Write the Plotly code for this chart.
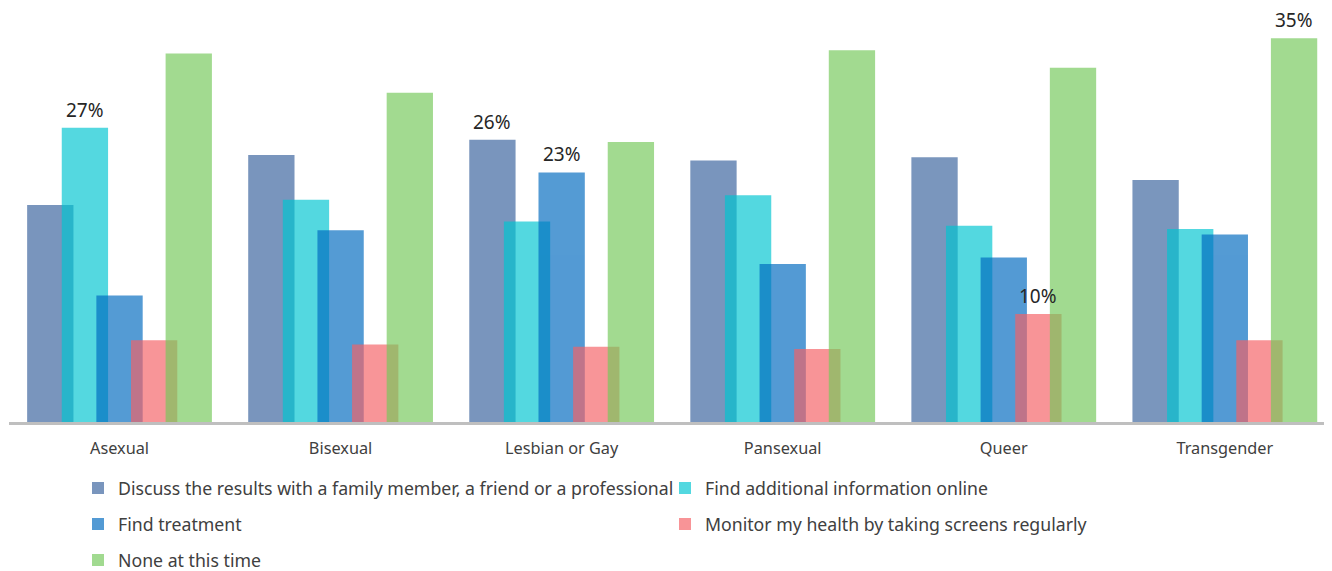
import plotly.graph_objects as go

categories = ["Asexual", "Bisexual", "Lesbian or Gay", "Pansexual", "Queer", "Transgender"]
series_names = [
    "Discuss the results with a family member, a friend or a professional",
    "Find additional information online",
    "Find treatment",
    "Monitor my health by taking screens regularly",
    "None at this time",
]
discuss = [19.9, 24.5, 25.9, 24.0, 24.3, 22.2]
info_online = [27.0, 20.4, 18.4, 20.8, 18.0, 17.7]
treatment = [11.6, 17.6, 22.9, 14.5, 15.1, 17.2]
monitor = [7.5, 7.1, 6.9, 6.7, 9.9, 7.5]
none_now = [33.8, 30.2, 25.7, 34.1, 32.5, 35.2]
# labels shown in the reference (series index, category index, text)
labels_series = [1, 0, 2, 3, 4]
labels_cat = [0, 2, 2, 4, 5]
labels_text = ["27%", "26%", "23%", "10%", "35%"]

colors = ["rgb(57,98,157)", "rgb(0,197,209)", "rgb(0,106,191)", "rgb(245,97,101)", "rgb(116,200,90)"]
alpha = 0.67
bar_w = 0.2095
step = 0.1566

all_series = [discuss, info_online, treatment, monitor, none_now]
legend_ids = ["legend", "legend2", "legend", "legend2", "legend"]

fig = go.Figure()
for k, (name, vals) in enumerate(zip(series_names, all_series)):
    off = (k - 2) * step
    fig.add_trace(go.Bar(
        x=[i + off for i in range(len(categories))],
        y=vals,
        width=bar_w,
        name=name,
        marker=dict(color=colors[k], line=dict(width=0)),
        opacity=alpha,
        legend=legend_ids[k],
        legendgroup="g%d" % k,
        hoverinfo="skip",
    ))

for s, c, t in zip(labels_series, labels_cat, labels_text):
    fig.add_annotation(
        x=c + (s - 2) * step, y=all_series[s][c], text=t,
        showarrow=False, yanchor="bottom", yshift=3,
        font=dict(size=19, color="#262626", family="Segoe UI, Noto Sans, sans-serif"),
    )

legend_common = dict(
    orientation="v", xref="container", yref="container", xanchor="left", yanchor="top",
    font=dict(size=17.7, color="#404040", family="Segoe UI, Noto Sans, sans-serif"),
    tracegroupgap=10, bgcolor="rgba(0,0,0,0)", traceorder="grouped", itemclick=False,
)

fig.update_layout(
    width=1332, height=571,
    margin=dict(l=1, r=0, t=2, b=157, autoexpand=False),
    paper_bgcolor="white", plot_bgcolor="white",
    barmode="overlay",
    showlegend=True,
    legend=dict(x=70 / 1332, y=1 - 462 / 571, **legend_common),
    legend2=dict(x=657 / 1332, y=1 - 462 / 571, **legend_common),
    xaxis=dict(
        range=[-0.5, 5.521],
        tickvals=list(range(len(categories))), ticktext=categories,
        showgrid=False, zeroline=False,
        showline=True, linecolor="#BFBFBF", linewidth=3,
        ticks="", ticklabelstandoff=9, tickangle=0,
        tickfont=dict(size=16.3, color="#404040", family="Segoe UI, Noto Sans, sans-serif"),
    ),
    yaxis=dict(range=[0, 37.8], visible=False, showgrid=False, zeroline=False),
)

fig.write_html("out.html")
